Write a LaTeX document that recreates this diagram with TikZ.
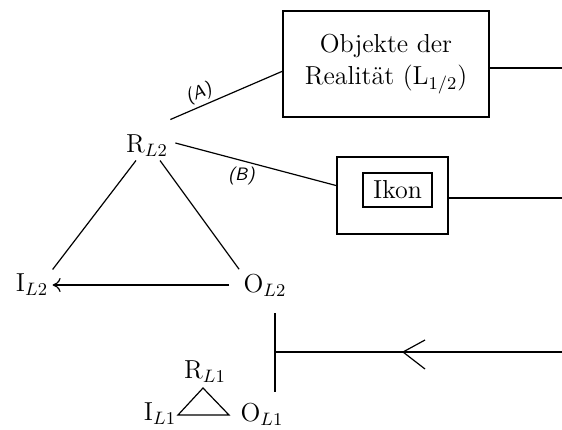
\documentclass[tikz,border=0pt]{standalone}
\usetikzlibrary{calc,arrows.meta}
\begin{document}
\begin{tikzpicture}[x=0.5pt,y=-0.5pt,line width=0.6pt,
    every node/.style={font=\fontsize{13}{16}\selectfont, inner sep=2pt},
    lab/.style={font=\small\sffamily\itshape, inner sep=1pt}]
  \useasboundingbox (0,0) rectangle (562,429);
  % Triangle L2
  \node (RL2) at (147,146) {R$_{L2}$};
  \node (IL2) at (32,285) {I$_{L2}$};
  \node (OL2) at (265,285) {O$_{L2}$};
  \draw ($(RL2.south)+(-11,-1)$) -- (IL2.north east);
  \draw ($(RL2.south)+(13,-1)$) -- (OL2.north west);
  \draw[-{To[length=4pt,width=7pt]}, shorten <=5pt] (OL2.west) -- (IL2.east);
  % Boites
  \node[draw, minimum width=103pt, minimum height=53pt, align=center] (obj) at (386,64)
    {Objekte der\\Realit\"at (L$_{1/2}$)};
  \node[draw, minimum width=55.5pt, minimum height=38.5pt] (zeichen) at (392.5,195.5) {};
  \node[draw, minimum width=34.5pt, minimum height=17pt] (ikon) at (397.5,190) {Ikon};
  % Liaisons (A) et (B)
  \draw ($(RL2.north east)+(-2,-11)$) -- node[lab, pos=0.3, above=0.5pt, sloped] {(A)} (obj.184);
  \draw ($(RL2.east)+(3,-3)$) -- node[lab, pos=0.41, below=2pt] {(B)} (zeichen.170);
  % Lignes vers la droite
  \coordinate (r1) at (562,68);
  \coordinate (r2) at (562,198);
  \draw (obj.east |- r1) -- (r1);
  \draw (zeichen.east |- r2) -- (r2);
  % Triangle L1
  \node (RL1) at (205,372) {R$_{L1}$};
  \node (IL1) at (160,414) {I$_{L1}$};
  \node (OL1) at (262,414) {O$_{L1}$};
  \draw (178,415) -- (203,388) -- (229,415) -- cycle;
  % Barre et fleche entrante
  \coordinate (vtop) at (275,313);
  \coordinate (vbot) at (275,392);
  \coordinate (r3) at (562,352);
  \coordinate (chev) at (403,352);
  \draw (vtop) -- (vbot);
  \draw (r3) -- (vtop |- r3);
  \draw (chev) ++(22,-12) -- (chev) -- ++(22,17);
\end{tikzpicture}
\end{document}
